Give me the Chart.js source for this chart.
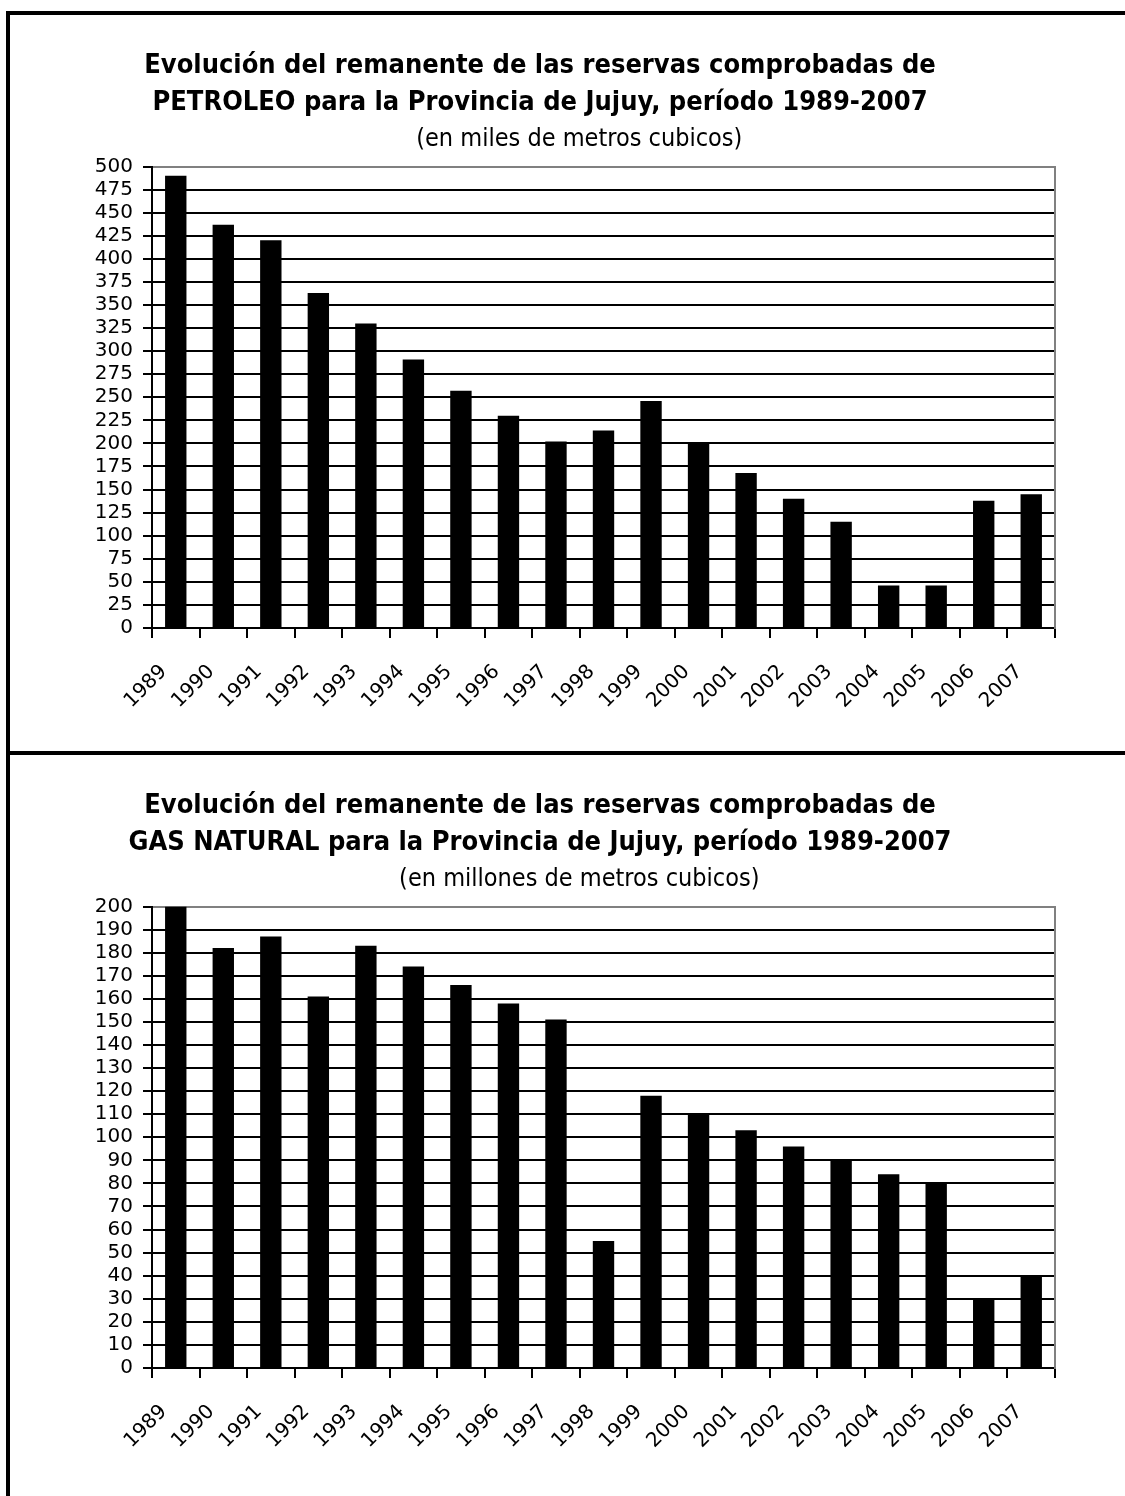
<!DOCTYPE html>
<html>
<head>
<meta charset="utf-8">
<script src="https://cdn.jsdelivr.net/npm/chart.js@4.4.1/dist/chart.umd.min.js"></script>
<style>
  html, body { margin: 0; padding: 0; background: #fff; width: 1125px; height: 1496px; overflow: hidden; }
  .frame { position: absolute; left: 6px; top: 11px; width: 1200px; height: 1600px; border: 4px solid #000; box-sizing: border-box; }
  .divider { position: absolute; left: 6px; top: 751px; width: 1200px; height: 4px; background: #000; }
  canvas { position: absolute; left: 10px; }
  #petroleoChart { top: 15px; }
  #gasChart { top: 755px; }
</style>
</head>
<body>
<div class="frame"></div>
<div class="divider"></div>
<canvas id="petroleoChart" width="1115" height="736"></canvas>
<canvas id="gasChart" width="1115" height="741"></canvas>
<script>
// años del periodo
const years = ["1989", "1990", "1991", "1992", "1993", "1994", "1995", "1996", "1997", "1998",
               "1999", "2000", "2001", "2002", "2003", "2004", "2005", "2006", "2007"]

// miles de m3
const petroleo = [490, 437, 420, 363, 330, 291, 257, 230, 202, 214, 246, 200, 168, 140, 115, 46, 46, 138, 145]
// millones de m3
const gasNatural = [200, 182, 187, 161, 183, 174, 166, 158, 151, 55, 118, 110, 103, 96, 90, 84, 80, 30, 40]

const petroleoAxis = [0, 500, 25]
const gasAxis = [0, 200, 10]

const petroleoTitle = ["Evolución del remanente de las reservas comprobadas de",
                       "PETROLEO para la Provincia de Jujuy, período 1989-2007"]
const gasTitle = ["Evolución del remanente de las reservas comprobadas de",
                  "GAS NATURAL para la Provincia de Jujuy, período 1989-2007"]

const plotTop = 152
const plotBottom = 613

// el subtitulo en el original esta corrido a la derecha del titulo
const subtitleIndent = "           "

function makeReservasChart(canvasId, titleLines, subtitleText, values, axis)
{
    const [yMin, yMax, yStep] = axis
    return new Chart(document.getElementById(canvasId).getContext("2d"), {
        type: "bar",
        data: {
            labels: years,
            datasets: [
                {
                    data: values,
                    backgroundColor: "#000",
                    borderWidth: 0,
                    categoryPercentage: 1,
                    barPercentage: 0.45
                }
            ]
        },
        options: {
            responsive: false,
            animation: false,
            layout: {
                padding: { left: 15, right: 70, top: 0, bottom: 0 }
            },
            scales: {
                x: {
                    offset: true,
                    grid: {
                        display: true,
                        offset: true,
                        drawOnChartArea: false,
                        drawTicks: true,
                        tickLength: 10,
                        color: "#000",
                        lineWidth: 2
                    },
                    border: { display: true, color: "#000", width: 2 },
                    ticks: {
                        minRotation: 45,
                        maxRotation: 45,
                        autoSkip: false,
                        padding: 22,
                        labelOffset: -12,
                        color: "#000",
                        font: { family: "DejaVu Sans", size: 20 }
                    },
                    afterFit: s => { s.height = s.chart.height - plotBottom }
                },
                y: {
                    min: yMin,
                    max: yMax,
                    grid: {
                        color: c => (c.tick && c.tick.value === yMax) ? "#808080" : "#000",
                        tickColor: "#000",
                        lineWidth: 2,
                        tickLength: 9
                    },
                    border: { display: true, color: "#000", width: 2 },
                    ticks: {
                        stepSize: yStep,
                        autoSkip: false,
                        padding: 10,
                        color: "#000",
                        font: { family: "DejaVu Sans", size: 20 }
                    },
                    afterFit: s => { s.width = 127 }
                },
                borde: {
                    position: "right",
                    min: 0,
                    max: 1,
                    grid: { display: false },
                    ticks: { display: false },
                    border: { display: true, color: "#808080", width: 2 },
                    afterFit: s => { s.width = 0 }
                }
            },
            plugins: {
                legend: { display: false },
                tooltip: { enabled: false },
                title: {
                    display: true,
                    text: titleLines,
                    color: "#000",
                    font: { family: "DejaVu Sans Condensed, DejaVu Sans", size: 27, weight: "bold", lineHeight: 1.38 },
                    padding: { top: 32, bottom: 0 }
                },
                subtitle: {
                    display: true,
                    text: subtitleIndent + subtitleText,
                    color: "#000",
                    font: { family: "DejaVu Sans Condensed, DejaVu Sans", size: 25, lineHeight: 1.4 },
                    padding: { top: 0, bottom: 10 }
                }
            }
        }
    })
}

makeReservasChart("petroleoChart", petroleoTitle, "(en miles de metros cubicos)", petroleo, petroleoAxis)
makeReservasChart("gasChart", gasTitle, "(en millones de metros cubicos)", gasNatural, gasAxis)
</script>
</body>
</html>
